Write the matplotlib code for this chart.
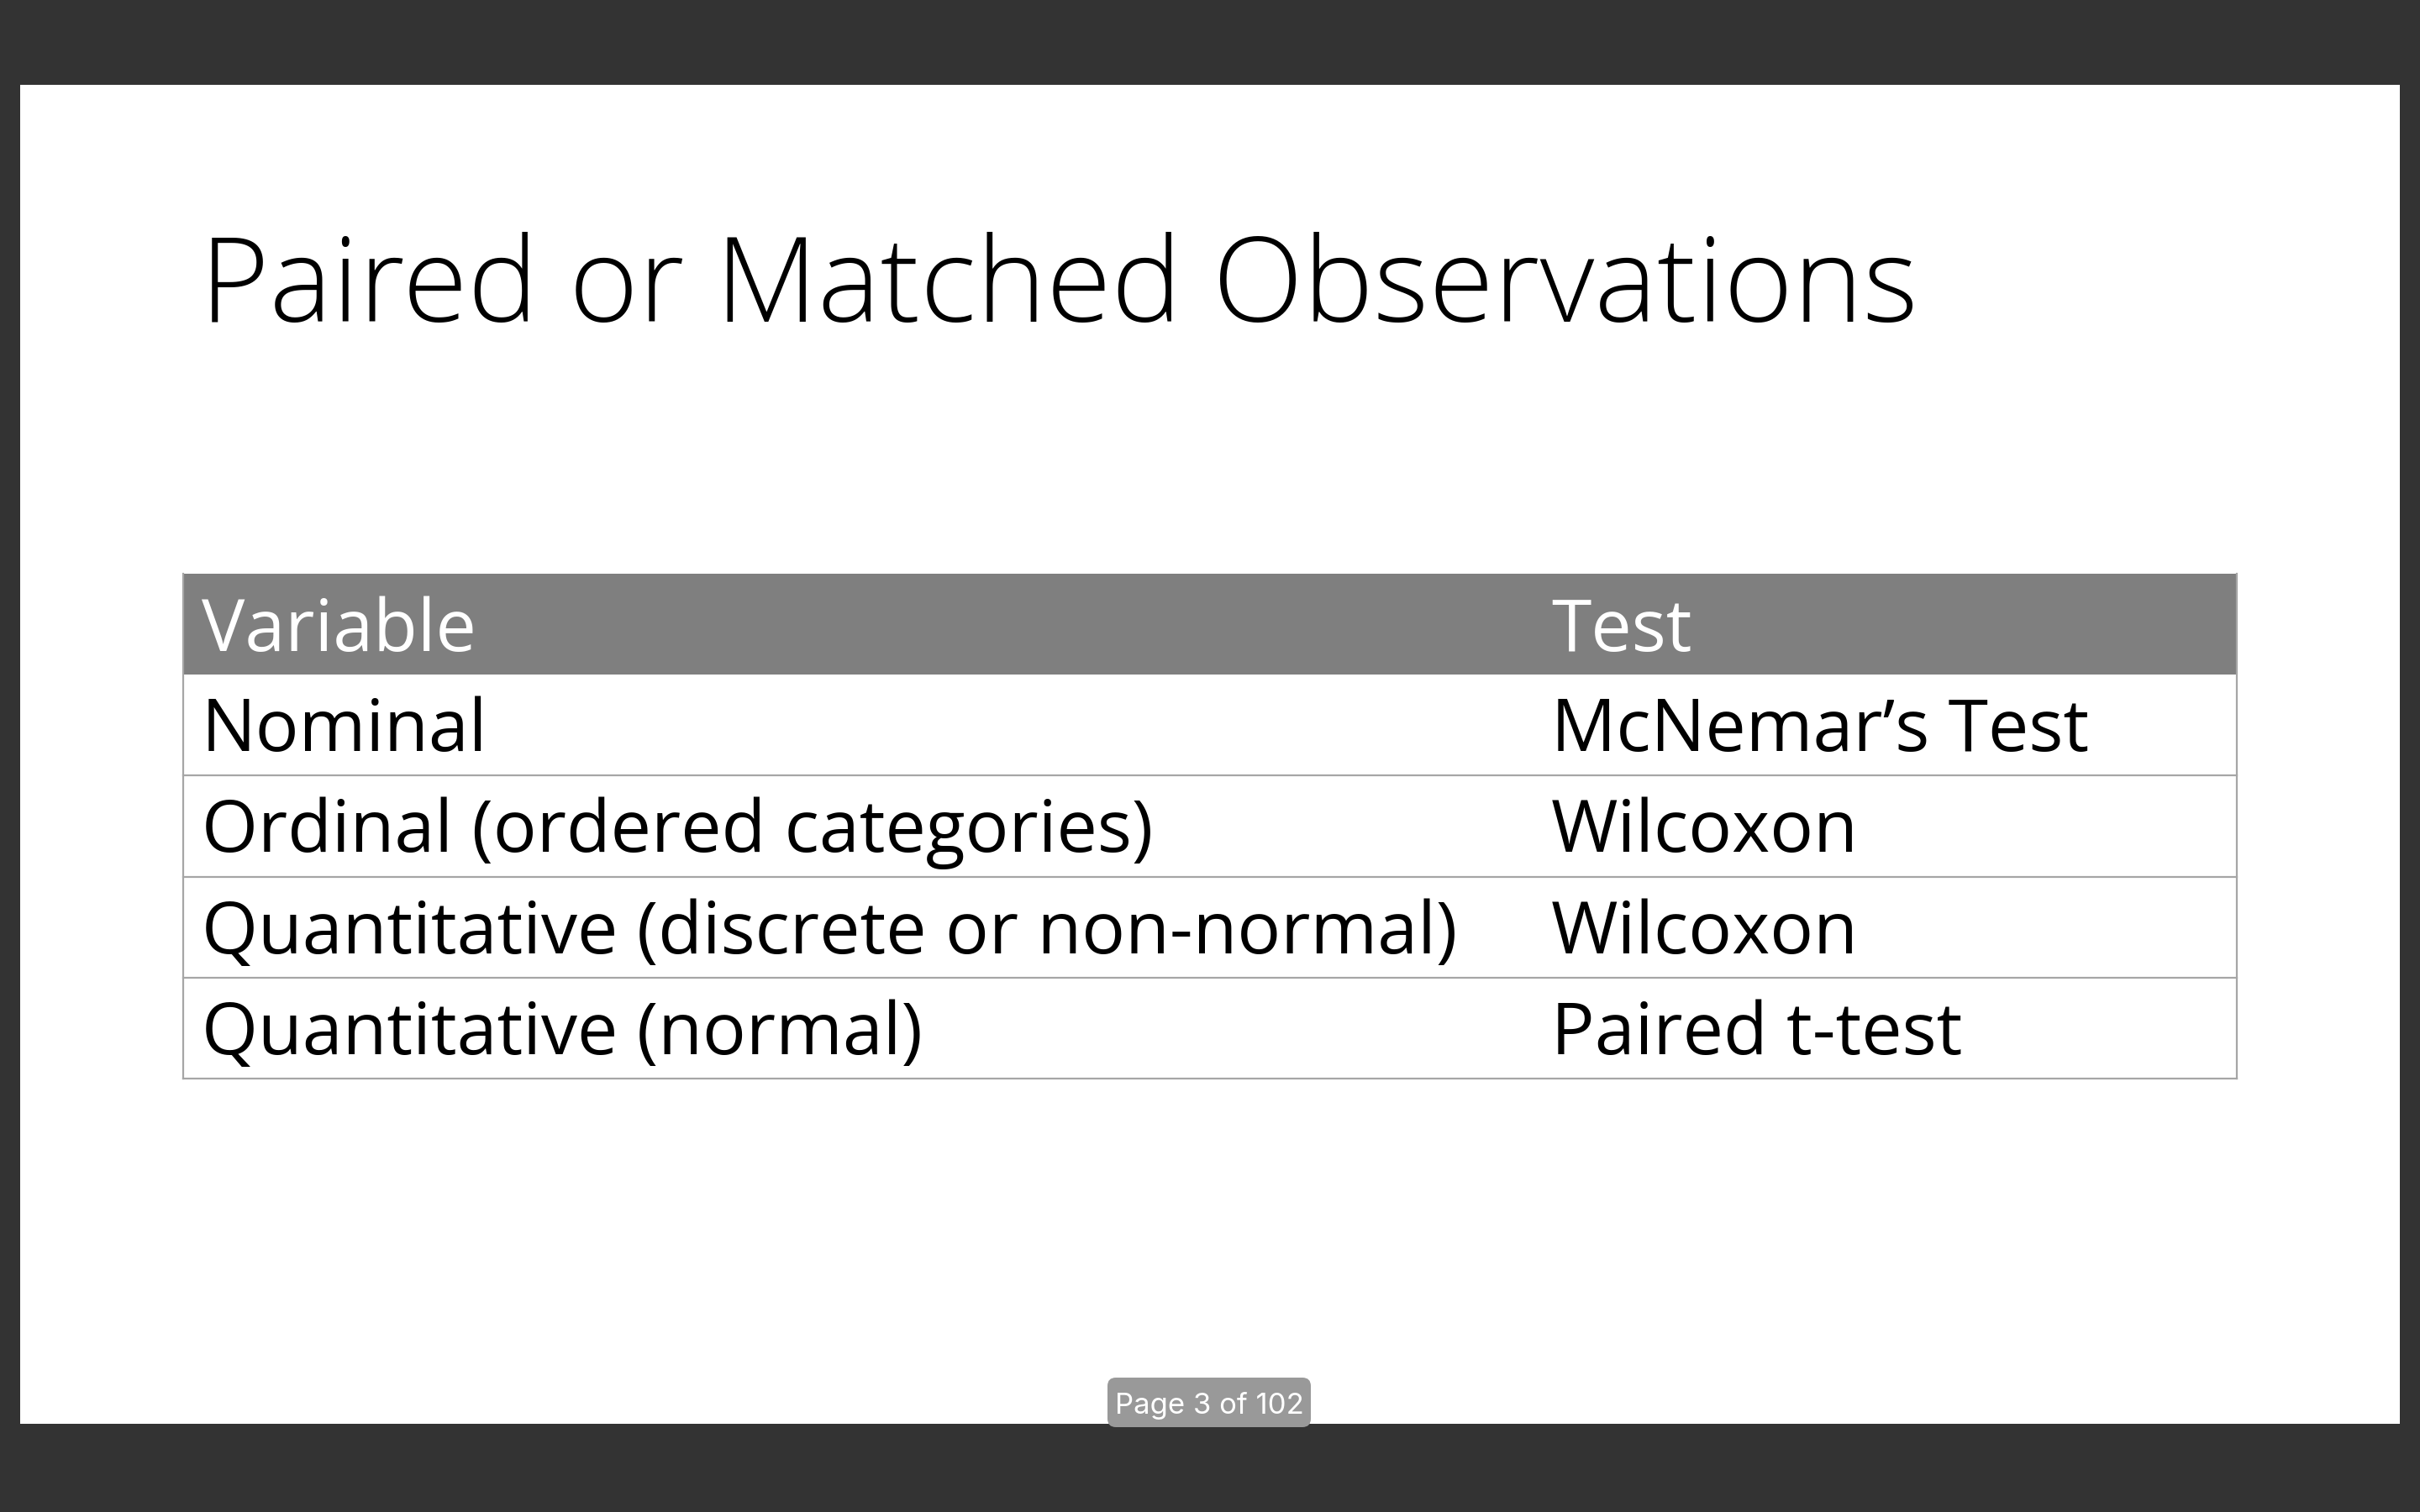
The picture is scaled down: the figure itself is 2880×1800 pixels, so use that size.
import matplotlib
matplotlib.use("Agg")
import matplotlib.pyplot as plt
from matplotlib.patches import Rectangle, FancyBboxPatch

plt.rcParams['font.family'] = ['Open Sans', 'DejaVu Sans']

# slide content
title = "Paired or Matched Observations"
header = ["Variable", "Test"]
variables = ["Nominal",
             "Ordinal (ordered categories)",
             "Quantitative (discrete or non-normal)",
             "Quantitative (normal)"]
tests = ["McNemar\u2019s Test", "Wilcoxon", "Wilcoxon", "Paired t-test"]
page_label = "Page 3 of 102"

W, H = 2880, 1800
fig = plt.figure(figsize=(W / 100, H / 100), dpi=100)
fig.patch.set_facecolor("#333333")
ax = fig.add_axes([0, 0, 1, 1])
ax.set_xlim(0, W)
ax.set_ylim(H, 0)
ax.axis("off")

# white slide
ax.add_patch(Rectangle((24, 101), 2832, 1594, facecolor="white", edgecolor="none", zorder=1))

ax.text(238, 383, title, fontsize=101.5, color="black", va="baseline", ha="left",
        fontweight="light", zorder=3)

# table geometry
tx0, tx1 = 218, 2662
top = 683
row_h = 120.2
col_x = [240, 1846]
line_col = "#a6a6a6"
cell_size = 62

ax.add_patch(Rectangle((tx0, top), tx1 - tx0, row_h, facecolor="#7f7f7f",
                       edgecolor="none", zorder=2))
for x, h in zip(col_x, header):
    ax.text(x, top + 92, h, fontsize=cell_size, color="white", va="baseline", zorder=3)

for i, (v, t) in enumerate(zip(variables, tests)):
    y0 = top + row_h * (i + 1)
    ax.plot([tx0, tx1], [y0 + row_h, y0 + row_h], color=line_col, lw=1.6, zorder=2)
    ax.text(col_x[0], y0 + 91, v, fontsize=cell_size, color="black", va="baseline", zorder=3)
    ax.text(col_x[1], y0 + 91, t, fontsize=cell_size, color="black", va="baseline", zorder=3)

bottom = top + row_h * (len(variables) + 1)
ax.plot([tx0, tx0], [top, bottom], color=line_col, lw=1.6, zorder=2)
ax.plot([tx1, tx1], [top, bottom], color=line_col, lw=1.6, zorder=2)

# page badge
ax.add_patch(FancyBboxPatch((1318, 1640), 242, 59, boxstyle="round,pad=0,rounding_size=10",
                            facecolor="#999999", edgecolor="none", zorder=4))
ax.text(1439, 1683, page_label, fontsize=25, color="white", ha="center", va="baseline",
        family=["Inter", "DejaVu Sans"], zorder=5)

fig.savefig("out.png", dpi=100, facecolor=fig.get_facecolor())
